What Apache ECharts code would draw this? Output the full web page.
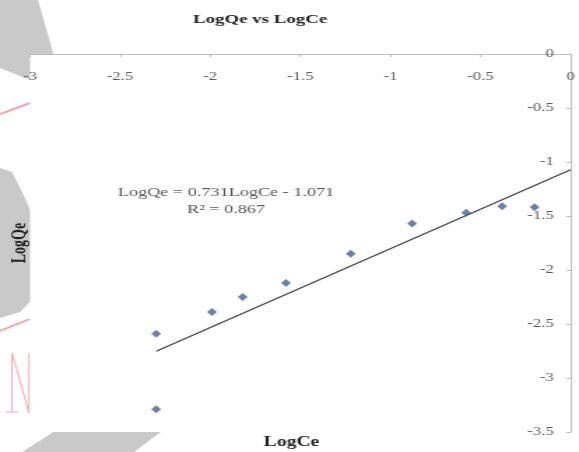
<!DOCTYPE html>
<html>
<head>
<meta charset="utf-8">
<script src="https://cdn.jsdelivr.net/npm/echarts@6/dist/echarts.min.js"></script>
<style>
  html, body { margin: 0; padding: 0; background: #fff; overflow: hidden; }
  #chart { height: 452px; transform-origin: 0 0; }
</style>
</head>
<body>
<div id="chart"></div>
<script>
// Freundlich isotherm: log of equilibrium concentration vs log of uptake
const logCe = [-2.30, -2.30, -1.99, -1.82, -1.58, -1.22, -0.88, -0.58, -0.38, -0.20];
const logQe = [-2.59, -3.29, -2.39, -2.25, -2.12, -1.85, -1.57, -1.47, -1.41, -1.42];

// Linear fit reported on the chart
const fitSlope = 0.731;
const fitIntercept = -1.071;
const fitR2 = 0.867;
const fitRange = [-2.3, 0];

// Axis extents and tick step
const xRange = [-3, 0];
const yRange = [-3.5, 0];
const tickStep = 0.5;

// The figure is laid out on a narrower canvas and widened horizontally
const OUT_W = 579;
const CANVAS_W = 414;
const SX = OUT_W / CANVAS_W;
const el = document.getElementById('chart');
el.style.width = CANVAS_W + 'px';
el.style.transform = 'scaleX(' + SX + ')';

const px = v => v / SX;   // horizontal page pixel -> canvas pixel
const serif = "'Liberation Serif', 'Times New Roman', serif";

const fitLine = fitRange.map(x => [x, +(fitSlope * x + fitIntercept).toFixed(4)]);
const points = logCe.map((x, i) => [x, logQe[i]]);

// Faint background decoration around the plot frame
const shadeFill = '#c9c9c9';
const pinkStroke = '#eea9b0';
const poly = (pts, style) => ({
  type: 'polygon', z: -5, silent: true,
  shape: { points: pts.map(p => [px(p[0]), p[1]]) },
  style: style
});
const pline = (pts, style) => ({
  type: 'polyline', z: -5, silent: true,
  shape: { points: pts.map(p => [px(p[0]), p[1]]) },
  style: style
});

const chart = echarts.init(el, null, { renderer: 'canvas' });
chart.setOption({
  animation: false,
  backgroundColor: '#fff',
  title: {
    text: 'LogQe vs LogCe',
    left: px(260), top: 13, padding: 0,
    textAlign: 'center',
    textStyle: { fontFamily: serif, fontSize: 13.5, fontWeight: 'bold', color: '#222' }
  },
  grid: {
    show: true, backgroundColor: '#fff', borderWidth: 0,
    left: px(30), right: CANVAS_W - px(573), top: 54, bottom: 20,
    containLabel: false
  },
  xAxis: {
    type: 'value', position: 'top',
    min: xRange[0], max: xRange[1], interval: tickStep,
    splitLine: { show: false },
    axisLine: { onZero: false, lineStyle: { color: '#bdbdbd', width: 1 } },
    axisTick: { inside: true, length: 3, lineStyle: { color: '#bdbdbd' } },
    axisLabel: {
      inside: true, margin: 17, color: '#5a5a5a',
      fontFamily: serif, fontSize: 12,
      showMinLabel: true, showMaxLabel: true
    }
  },
  yAxis: {
    type: 'value', position: 'right',
    min: yRange[0], max: yRange[1], interval: tickStep,
    splitLine: { show: false },
    axisLine: { onZero: false, lineStyle: { color: '#bdbdbd', width: 1 } },
    axisTick: { inside: true, length: 3, lineStyle: { color: '#bdbdbd' } },
    axisLabel: {
      inside: true, margin: 12, color: '#5a5a5a',
      fontFamily: serif, fontSize: 12,
      showMinLabel: true, showMaxLabel: true
    }
  },
  graphic: [
    poly([[0, 0], [38, 0], [54, 56], [40, 84], [0, 68]], { fill: shadeFill }),
    poly([[0, 168], [12, 172], [24, 196], [32, 214], [32, 300], [20, 312], [0, 318]], { fill: shadeFill }),
    poly([[55, 431], [162, 431], [134, 452], [22, 452]], { fill: shadeFill }),
    pline([[0, 114], [30, 103]], { stroke: pinkStroke, lineWidth: 2, fill: null }),
    pline([[0, 331], [30, 319]], { stroke: pinkStroke, lineWidth: 2, fill: null }),
    pline([[12, 412], [12, 353], [29, 413], [29, 353]], { stroke: pinkStroke, lineWidth: 1, fill: null }),
    pline([[6, 412], [18, 412]], { stroke: pinkStroke, lineWidth: 1, fill: null }),
    {
      type: 'text', z: 10,
      x: px(226), y: 184,
      style: {
        text: 'LogQe = ' + fitSlope + 'LogCe - ' + Math.abs(fitIntercept).toFixed(3) +
              '\nR\u00B2 = ' + fitR2.toFixed(3),
        font: '13px ' + serif,
        fill: '#555',
        align: 'center', textAlign: 'center',
        verticalAlign: 'top', textVerticalAlign: 'top',
        lineHeight: 17
      }
    },
    {
      type: 'text', z: 10,
      x: px(291.5), y: 442,
      style: {
        text: 'LogCe',
        font: 'bold 14px ' + serif,
        fill: '#222',
        align: 'center', textAlign: 'center',
        verticalAlign: 'middle', textVerticalAlign: 'middle'
      }
    },
    {
      type: 'text', z: 10,
      x: px(20), y: 243, rotation: Math.PI / 2,
      style: {
        text: 'LogQe',
        font: 'bold 14px ' + serif,
        fill: '#222',
        align: 'center', textAlign: 'center',
        verticalAlign: 'middle', textVerticalAlign: 'middle'
      }
    }
  ],
  series: [
    {
      name: 'Linear fit',
      type: 'line',
      data: fitLine,
      showSymbol: false,
      lineStyle: { color: '#3c3c3c', width: 1.1 },
      z: 2
    },
    {
      name: 'LogQe',
      type: 'scatter',
      data: points,
      symbol: 'diamond',
      symbolSize: [7, 8],
      itemStyle: { color: '#46638f' },
      z: 3
    }
  ]
});
</script>
</body>
</html>
